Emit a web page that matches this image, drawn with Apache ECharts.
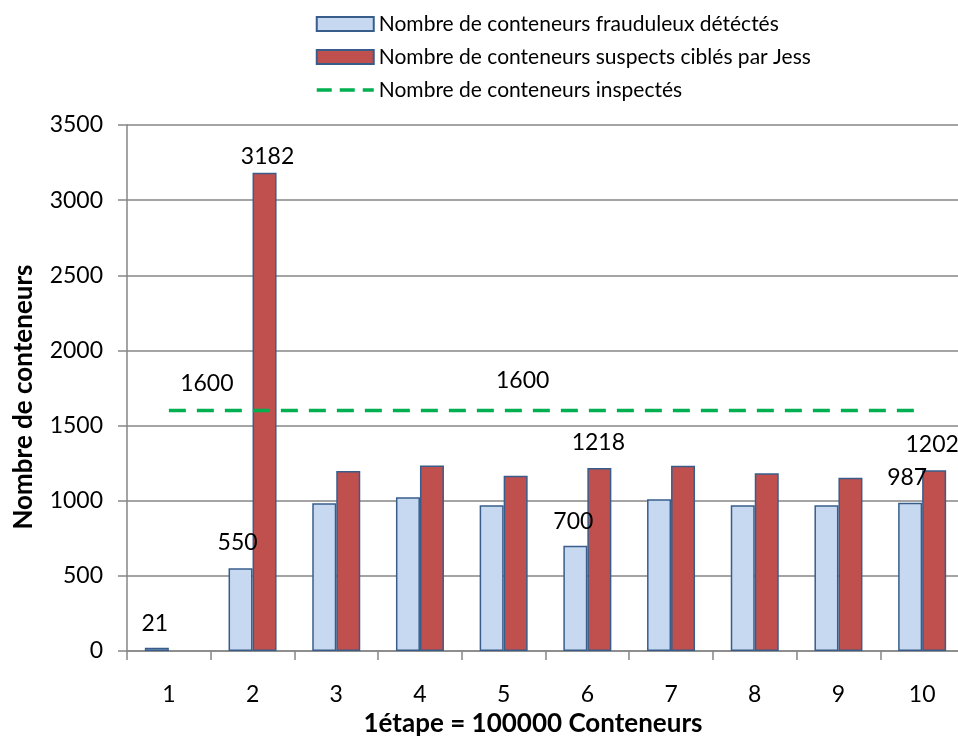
<!DOCTYPE html>
<html>
<head>
<meta charset="utf-8">
<script src="https://cdn.jsdelivr.net/npm/echarts@6/dist/echarts.min.js"></script>
<style>
  html, body { margin: 0; padding: 0; background: #fff; }
  #chart { width: 958px; height: 738px; }
</style>
</head>
<body>
<div id="chart"></div>
<script>
// Étapes (1 étape = 100000 conteneurs)
const categories = ['1', '2', '3', '4', '5', '6', '7', '8', '9', '10'];
// Conteneurs frauduleux détectés
const fraudValues = [21, 550, 983, 1023, 969, 700, 1009, 969, 969, 987];
// Conteneurs suspects ciblés par Jess (aucun à l'étape 1)
const suspectValues = [null, 3182, 1198, 1235, 1166, 1218, 1233, 1182, 1153, 1202];
// Conteneurs inspectés
const inspectedValues = [1600, 1600, 1600, 1600, 1600, 1600, 1600, 1600, 1600, 1600];
const yTicks = [0, 500, 1000, 1500, 2000, 2500, 3000, 3500];

const seriesNames = [
  'Nombre de conteneurs frauduleux détéctés',
  'Nombre de conteneurs suspects ciblés par Jess',
  'Nombre de conteneurs inspectés'
];

const FONT = 'Lato';
const TXT = '#000';
const NUM_SIZE = 23;

// Points that carry a value label, with the label's offset
const fraudLabels = { 0: [-2, -8], 1: [-3, -9], 5: [-2, -8], 9: [-3, -9] };
const suspectLabels = { 1: [3, 0], 5: [-1, -9], 9: [-2, -9] };
const inspectedLabels = { 0: [38, -9], 4: [19, -12] };

function withLabels(values, labelled) {
  return values.map((v, i) => {
    if (!(i in labelled)) return { value: v, label: { show: false } };
    return { value: v, label: { show: true, offset: labelled[i] } };
  });
}

const labelStyle = {
  position: 'top',
  distance: 5,
  color: TXT,
  fontFamily: FONT,
  fontSize: NUM_SIZE
};

const chart = echarts.init(document.getElementById('chart'), null, { renderer: 'canvas' });

chart.setOption({
  animation: false,
  backgroundColor: '#fff',
  textStyle: { fontFamily: FONT, color: TXT },
  legend: {
    orient: 'vertical',
    left: 315,
    top: 13,
    padding: 0,
    itemWidth: 57,
    itemHeight: 14,
    itemGap: 11,
    data: [
      { name: seriesNames[0], icon: 'rect' },
      { name: seriesNames[1], icon: 'rect' },
      { name: seriesNames[2], lineStyle: { type: [15, 8], width: 3.5 } }
    ],
    textStyle: { fontFamily: FONT, fontSize: 21, color: TXT, lineHeight: 22 }
  },
  grid: {
    left: 127,
    right: -6,
    top: 125,
    bottom: 87,
    containLabel: false,
    outerBoundsMode: 'none'
  },
  xAxis: {
    type: 'category',
    data: categories,
    name: '1étape = 100000 Conteneurs',
    nameLocation: 'middle',
    nameGap: 59,
    nameTextStyle: { fontFamily: FONT, fontSize: 26, fontWeight: 'bold', color: TXT, padding: [0, 25, 0, 0] },
    axisLine: { lineStyle: { color: '#868686', width: 1.5 } },
    axisTick: { show: true, length: 9, lineStyle: { color: '#868686', width: 1.5 } },
    axisLabel: { color: TXT, fontFamily: FONT, fontSize: NUM_SIZE, margin: 32 }
  },
  yAxis: {
    type: 'value',
    min: yTicks[0],
    max: yTicks[yTicks.length - 1],
    interval: 500,
    name: 'Nombre de conteneurs',
    nameLocation: 'middle',
    nameGap: 90,
    nameRotate: 90,
    nameTextStyle: { fontFamily: FONT, fontSize: 26, fontWeight: 'bold', color: TXT, padding: [0, 18, 0, 0] },
    axisLine: { show: true, lineStyle: { color: '#868686', width: 1.5 } },
    axisTick: { show: true, length: 9, lineStyle: { color: '#868686', width: 1.5 } },
    axisLabel: { color: TXT, fontFamily: FONT, fontSize: NUM_SIZE, margin: 24, formatter: v => String(v) },
    splitLine: { lineStyle: { color: '#868686', width: 1.5 } }
  },
  series: [
    {
      name: seriesNames[0],
      type: 'bar',
      barWidth: 24,
      barGap: '0%',
      data: withLabels(fraudValues, fraudLabels),
      itemStyle: { color: '#C6D9F1', borderColor: '#385D8A', borderWidth: 1.5 },
      label: labelStyle
    },
    {
      name: seriesNames[1],
      type: 'bar',
      barWidth: 24,
      barGap: '0%',
      data: withLabels(suspectValues, suspectLabels),
      itemStyle: { color: '#C0504D', borderColor: '#385D8A', borderWidth: 1.5 },
      label: labelStyle
    },
    {
      name: seriesNames[2],
      type: 'line',
      data: withLabels(inspectedValues, inspectedLabels),
      symbol: 'circle',
      symbolSize: 2,
      showSymbol: true,
      lineStyle: { color: '#00B050', width: 3.5, type: [17, 11] },
      itemStyle: { color: 'rgba(0,0,0,0)', borderWidth: 0 },
      label: labelStyle,
      z: 5
    }
  ]
});
</script>
</body>
</html>
